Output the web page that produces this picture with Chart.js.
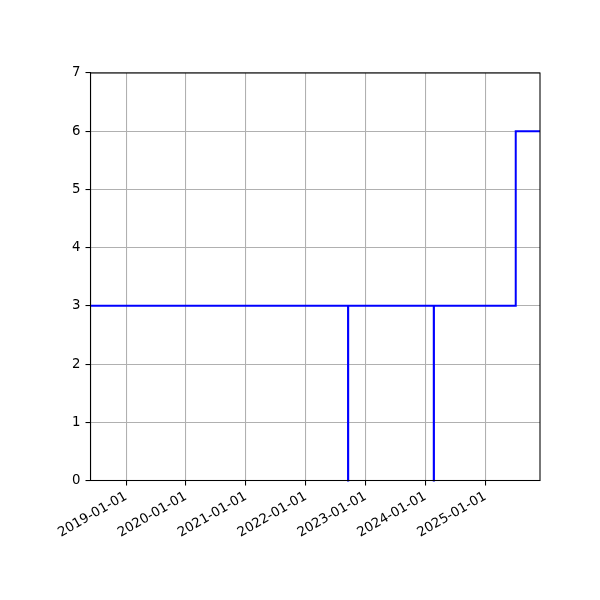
<!DOCTYPE html>
<html>
<head>
<meta charset="utf-8">
<script src="https://cdn.jsdelivr.net/npm/chart.js@4"></script>
<style>
html,body{margin:0;padding:0;background:#fff;}
#wrap{width:600px;height:600px;}
</style>
</head>
<body>
<div id="wrap"><canvas id="c" width="600" height="600"></canvas></div>
<script>
const dates = ['2018-05-29','2022-09-16','2022-09-17','2024-02-21','2024-02-22','2025-07-05','2025-11-30'];
const values = [3, 0, 3, 0, 3, 6, 6];
const tickLabels = ['2019-01-01','2020-01-01','2021-01-01','2022-01-01','2023-01-01','2024-01-01','2025-01-01'];
const yTicks = [0,1,2,3,4,5,6,7];
const xMinDate = '2018-05-29';
const xMaxDate = '2025-11-30';

const ts = s => Date.parse(s + 'T00:00:00Z');
const pts = dates.map((d,i)=>({x: ts(d), y: values[i]}));
const tickVals = tickLabels.map(ts);
const fmt = v => new Date(v).toISOString().slice(0,10);

const FONT = {family: 'DejaVu Sans', size: 13.3};

const bgPlugin = {
  id: 'bg',
  beforeDraw(chart){
    const ctx = chart.ctx;
    ctx.save();
    ctx.fillStyle = '#fff';
    ctx.fillRect(0,0,chart.width,chart.height);
    ctx.restore();
  },
  afterDraw(chart){
    const a = chart.chartArea, ctx = chart.ctx;
    ctx.save();
    ctx.strokeStyle = '#000';
    ctx.lineWidth = 1.07;
    ctx.strokeRect(a.left, a.top, a.right - a.left, a.bottom - a.top);
    ctx.restore();
  }
};

new Chart(document.getElementById('c'), {
  type: 'line',
  data: {
    datasets: [{
      data: pts,
      borderColor: '#0000ff',
      borderWidth: 2,
      pointRadius: 0,
      stepped: 'before',
      fill: false,
      clip: 2
    }]
  },
  options: {
    responsive: false,
    animation: false,
    devicePixelRatio: 1,
    layout: {padding: {left: 0, top: 73, right: 60, bottom: 0}},
    plugins: {legend: {display: false}, tooltip: {enabled: false}},
    scales: {
      x: {
        type: 'linear',
        min: ts(xMinDate),
        max: ts(xMaxDate),
        afterBuildTicks: s => { s.ticks = tickVals.map(v => ({value: v})); },
        afterFit: s => { s.height = 119.5; },
        ticks: {
          callback: v => fmt(v),
          autoSkip: false,
          maxRotation: 30,
          minRotation: 30,
          color: '#000',
          font: FONT,
          padding: 3
        },
        grid: {color: '#b0b0b0', lineWidth: 1.07, tickColor: '#000', tickLength: 5, drawTicks: true},
        border: {color: '#000', width: 1.07}
      },
      y: {
        type: 'linear',
        min: 0,
        max: 7,
        afterBuildTicks: s => { s.ticks = yTicks.map(v => ({value: v})); },
        afterFit: s => { s.width = 90.5; },
        ticks: {color: '#000', font: FONT, padding: 5},
        grid: {color: '#b0b0b0', lineWidth: 1.07, tickColor: '#000', tickLength: 5, drawTicks: true},
        border: {color: '#000', width: 1.07}
      }
    }
  },
  plugins: [bgPlugin]
});
</script>
</body>
</html>
